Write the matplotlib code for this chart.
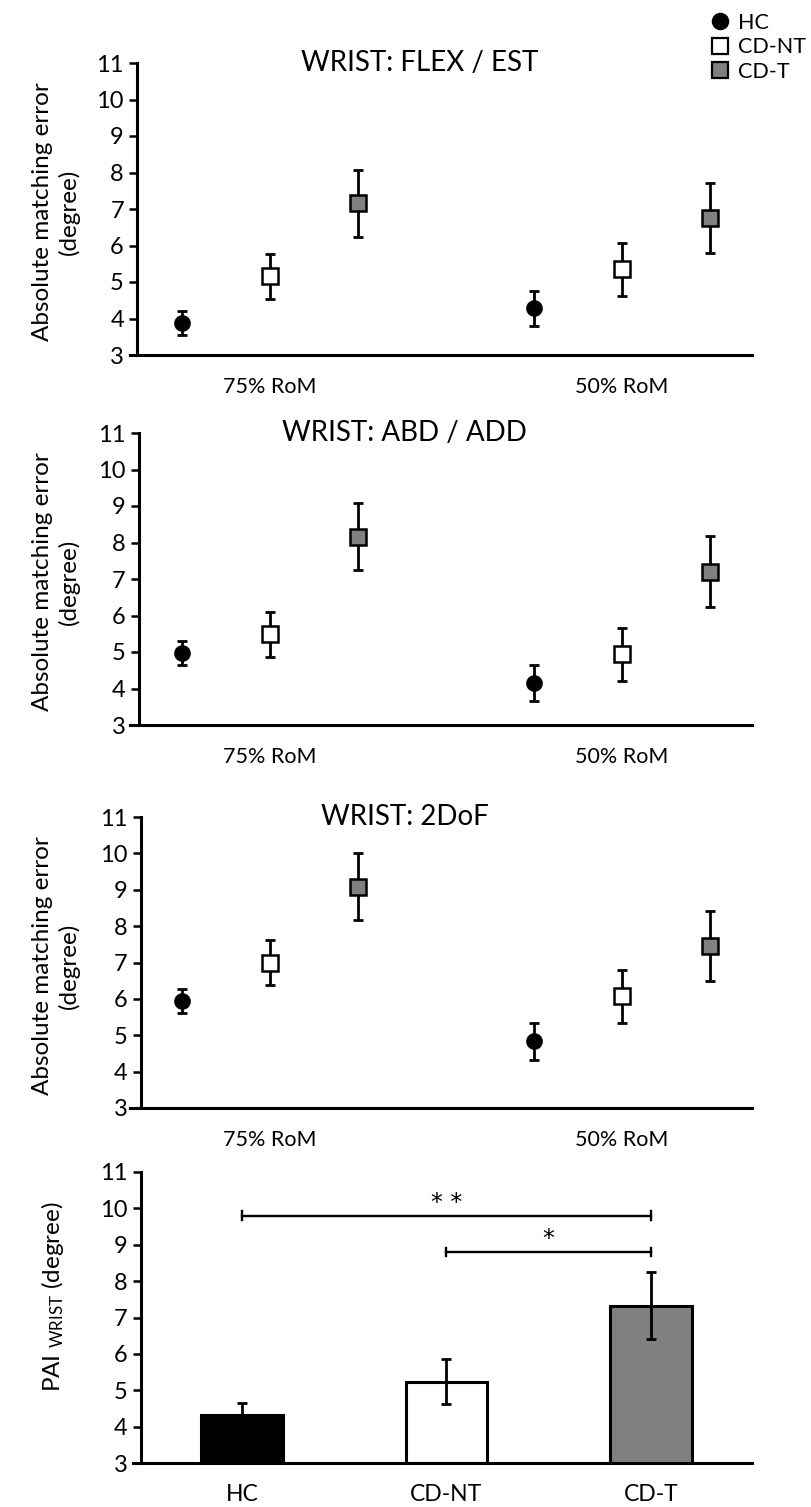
import matplotlib
matplotlib.use("Agg")
import matplotlib.pyplot as plt
from matplotlib.lines import Line2D
import numpy as np

plt.rcParams['font.family'] = ['Lato', 'DejaVu Sans']
plt.rcParams['mathtext.fontset'] = 'custom'
plt.rcParams['mathtext.rm'] = 'Lato'
plt.rcParams['mathtext.it'] = 'Lato:italic'

# ---- data -------------------------------------------------------------
groups = ["HC", "CD-NT", "CD-T"]
conditions = ["75% RoM", "50% RoM"]
panel_titles = ["WRIST: FLEX / EST", "WRIST: ABD / ADD", "WRIST: 2DoF"]

# mean absolute matching error (degree): rows = conditions, cols = groups
flex_mean = [[3.87, 5.16, 7.16], [4.28, 5.35, 6.75]]
flex_err = [[0.33, 0.62, 0.92], [0.48, 0.73, 0.95]]
abd_mean = [[4.97, 5.48, 8.16], [4.15, 4.94, 7.20]]
abd_err = [[0.32, 0.62, 0.92], [0.50, 0.73, 0.97]]
dof_mean = [[5.93, 7.00, 9.08], [4.83, 6.07, 7.46]]
dof_err = [[0.33, 0.62, 0.92], [0.50, 0.72, 0.96]]

# PAI wrist
pai_mean = [4.31, 5.24, 7.32]
pai_err = [0.35, 0.62, 0.92]

# significance brackets: (from group, to group, height, label)
sig_from = [0, 1]
sig_to = [2, 2]
sig_height = [9.8, 8.8]
sig_label = ["* *", "*"]

yticks = list(range(3, 12))

# ---- style ------------------------------------------------------------
marker_style = {
    "HC": dict(marker="o", markersize=10.5, markerfacecolor="black", markeredgecolor="black", markeredgewidth=1.5),
    "CD-NT": dict(marker="s", markersize=11.5, markerfacecolor="white", markeredgecolor="black", markeredgewidth=1.8),
    "CD-T": dict(marker="s", markersize=11.5, markerfacecolor="#808080", markeredgecolor="black", markeredgewidth=1.8),
}
bar_colors = ["black", "white", "#808080"]

W, H = 811, 1507
fig = plt.figure(figsize=(W / 100, H / 100), dpi=100)


def axes_px(left, right, top, bottom):
    return fig.add_axes([left / W, 1 - bottom / H, (right - left) / W, (bottom - top) / H])


def style_axis(ax, spine_x):
    for s in ("top", "right"):
        ax.spines[s].set_visible(False)
    ax.spines["left"].set_linewidth(2.2)
    ax.spines["bottom"].set_linewidth(2.2)
    ax.spines["left"].set_position(("data", spine_x))
    ax.set_ylim(3, 11)
    ax.set_yticks(yticks)
    ax.tick_params(axis="y", direction="out", length=5.5, width=1.8, labelsize=17, pad=4)
    ax.tick_params(axis="x", length=0, labelsize=15.5, pad=16)


# ---- point panels -----------------------------------------------------
panel_means = [flex_mean, abd_mean, dof_mean]
panel_errs = [flex_err, abd_err, dof_err]
tops = [63, 433, 817]
bottoms = [355, 725, 1108]
spines = [-0.51, -0.49, -0.47]
title_x = [0.465, 0.442, 0.442]

for k in range(3):
    ax = axes_px(130, 752, tops[k], bottoms[k])
    ax.set_xlim(-0.591, 6.477)
    style_axis(ax, spines[k])
    for c in range(len(conditions)):
        for g, name in enumerate(groups):
            x = c * 4 + g
            m = panel_means[k][c][g]
            e = panel_errs[k][c][g]
            ax.errorbar([x], [m], yerr=[e], fmt="none", ecolor="black",
                        elinewidth=2.0, capsize=3.4, capthick=2.0, zorder=2, clip_on=False)
            ax.plot([x], [m], linestyle="none", zorder=3, clip_on=False, **marker_style[name])
    ax.set_xticks([c * 4 + 1 for c in range(len(conditions))])
    ax.set_xticklabels(conditions)
    ax.set_ylabel("Absolute matching error\n(degree)", fontsize=17.5, linespacing=1.3)
    ax.yaxis.set_label_coords(-0.08, 0.49)
    ax.text(title_x[k], 1.0, panel_titles[k], transform=ax.transAxes,
            ha="center", va="center", fontsize=20)

# ---- PAI bar panel ----------------------------------------------------
ax = axes_px(133, 752, 1172, 1463)
ax.set_xlim(-0.533, 2.494)
style_axis(ax, -0.494)
ax.tick_params(axis="x", labelsize=16.5, pad=15)
xb = np.arange(len(groups))
ax.bar(xb, [m - 3 for m in pai_mean], bottom=3, width=0.40, color=bar_colors,
       edgecolor="black", linewidth=2.2, zorder=2)
ax.errorbar(xb, pai_mean, yerr=pai_err, fmt="none", ecolor="black",
            elinewidth=2.0, capsize=3.4, capthick=2.0, zorder=3)
ax.set_xticks(xb)
ax.set_xticklabels(groups)
ax.set_ylabel("PAI $_{\\mathrm{WRIST}}$ (degree)", fontsize=17.5)
ax.yaxis.set_label_coords(-0.108, 0.57)

tick_h = 0.12
for a, b, h, lab in zip(sig_from, sig_to, sig_height, sig_label):
    ax.plot([xb[a], xb[b]], [h, h], color="black", lw=1.7, zorder=3)
    for xe in (xb[a], xb[b]):
        ax.plot([xe, xe], [h - tick_h, h + tick_h], color="black", lw=1.7, zorder=3)
    ax.text((xb[a] + xb[b]) / 2, h + 0.36, lab, ha="center", va="center",
            fontsize=17, family="DejaVu Sans")

# ---- legend -----------------------------------------------------------
handles = [Line2D([], [], linestyle="none", **{**marker_style[n], "markersize": 11, "markeredgewidth": 1.6}) for n in groups]
fig.legend(handles, groups, loc="upper left", bbox_to_anchor=(710 / W, 1 - 13 / H),
           frameon=False, fontsize=15.5, handlelength=0.9, handletextpad=0.4,
           labelspacing=0.2, borderpad=0, borderaxespad=0)

fig.savefig("out.png", dpi=100, facecolor="white")
